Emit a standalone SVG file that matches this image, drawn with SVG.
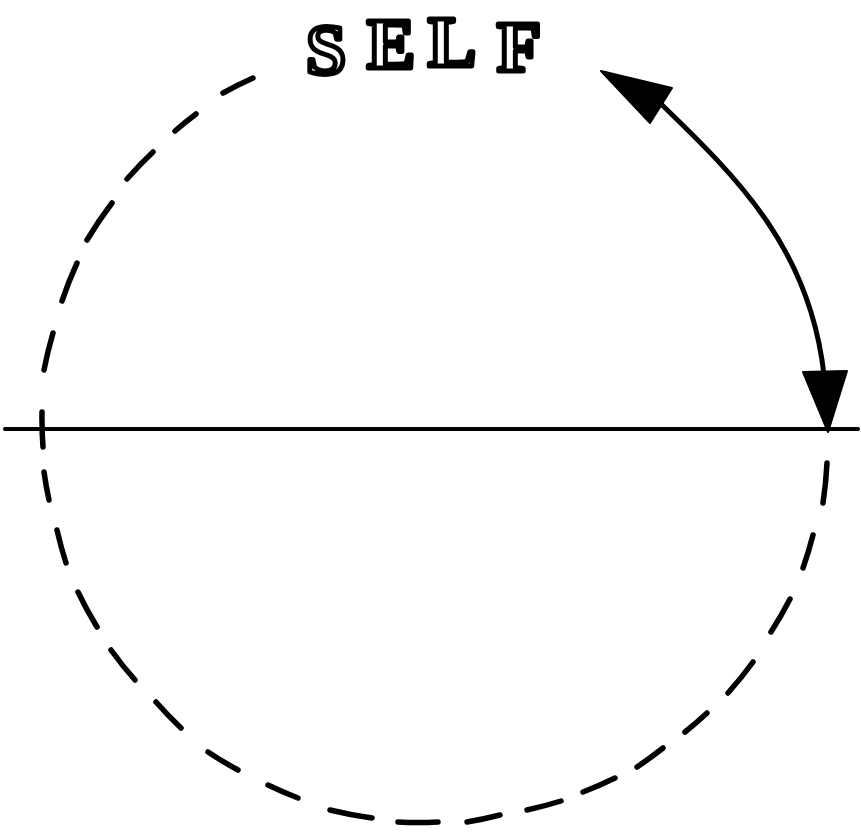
<svg xmlns="http://www.w3.org/2000/svg" width="861" height="832" viewBox="0 0 861 832">
  <style>
    .dash { fill: none; stroke: #000; stroke-width: 5.5; stroke-linecap: round; }
    .axis { stroke: #000; stroke-width: 4; stroke-linecap: round; }
    .conn { fill: none; stroke: #000; stroke-width: 5; stroke-linecap: round; }
    .head { fill: #000; stroke: #000; stroke-width: 2; stroke-linejoin: round; }
    .lbl { font-family: "Liberation Serif", "DejaVu Serif", serif; font-weight: bold; font-size: 72px; fill: #fff; stroke: #000; stroke-width: 5; stroke-linejoin: round; text-anchor: middle; }
  </style>
  <rect width="861" height="832" fill="#fff"/>
  <g id="circle">
    <path class="dash" d="
      M827,463 A393,393 0 0 1 823,503
      M813,535 A393,393 0 0 1 803,568
      M790,599 A393,393 0 0 1 771,632
      M753,662 A393,393 0 0 1 728,693
      M707,713 A393,393 0 0 1 685,732
      M663,748 A393,393 0 0 1 637,767
      M615,778 A393,393 0 0 1 583,792
      M561,801 A393,393 0 0 1 527,810
      M500,815 A393,393 0 0 1 467,822
      M438,822 A393,393 0 0 1 398,822
      M372,818 A393,393 0 0 1 330,810
      M298,798 A393,393 0 0 1 268,785
      M238,770 A393,393 0 0 1 208,752
      M181,728 A393,393 0 0 1 156,702
      M135,680 A393,393 0 0 1 111,650
      M97,627 A393,393 0 0 1 78,592
      M66,563 A393,393 0 0 1 57,530
      M49,500 A393,393 0 0 1 44,472
      M43,447 A393,393 0 0 1 42,412
      M44,370 A393,393 0 0 1 53,333
      M62,301 A393,393 0 0 1 77,263
      M87,240 A393,393 0 0 1 112,203
      M127,179 A393,393 0 0 1 153,152
      M175,131 A393,393 0 0 1 196,114
      M223,93 A393,393 0 0 1 253,78"/>
  </g>
  <g id="axis">
    <line class="axis" x1="5" y1="429" x2="858" y2="429"/>
  </g>
  <g id="self-label">
    <text class="lbl" x="326" y="74">S</text>
    <text class="lbl" x="391" y="68">E</text>
    <text class="lbl" x="452" y="66">L</text>
    <text class="lbl" x="519" y="71">F</text>
  </g>
  <g id="connectors">
    <path class="conn" d="M660,103 C740,180 810,250 824,375"/>
    <polygon class="head" points="601,71 672,88 650,123"/>
    <polygon class="head" points="803,372 847,371 828,432"/>
  </g>
</svg>
